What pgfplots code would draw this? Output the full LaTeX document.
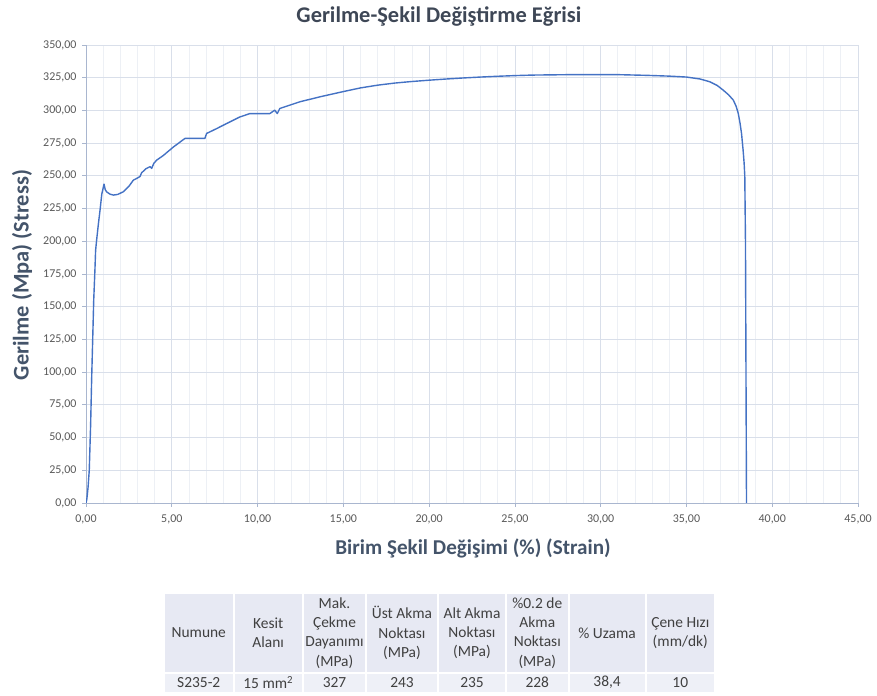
\documentclass[border=0pt]{standalone}
\usepackage{fontspec}
\setmainfont{Carlito}
\usepackage{pgfplots}
\pgfplotsset{compat=1.18}
\definecolor{curve}{HTML}{4472C4}
\definecolor{lbl}{HTML}{44546A}
\definecolor{ttl}{HTML}{3E4756}
\definecolor{tck}{HTML}{595959}
\definecolor{axl}{HTML}{A9B6CF}
\definecolor{gmaj}{HTML}{D9DFEA}
\definecolor{gmin}{HTML}{EDF0F5}
\definecolor{hdr}{HTML}{E7E9F3}
\definecolor{row}{HTML}{EEF0F7}
\definecolor{tbltxt}{HTML}{404040}
\begin{document}
\begin{tikzpicture}[x=1bp,y=1bp]
\path (0,0) rectangle (877,696);
\begin{axis}[
  at={(86bp,193bp)}, anchor=origin,
  width=772bp, height=458bp, scale only axis,
  xmin=0, xmax=45, ymin=0, ymax=350,
  xtick={0,5,...,45}, minor xtick={1,2,3,4,6,7,8,9,11,12,13,14,16,17,18,19,21,22,23,24,26,27,28,29,31,32,33,34,36,37,38,39,41,42,43,44},
  ytick={0,25,...,350},
  grid=both,
  major grid style={gmaj, line width=0.8bp},
  minor grid style={gmin, line width=0.8bp},
  axis x line*=bottom, axis y line*=left,
  axis line style={axl, line width=0.9bp, -},
  tick align=outside, major tick length=4bp, minor tick length=0pt,
  tick style={axl, line width=0.8bp},
  ticklabel style={font=\fontsize{12}{14}\selectfont, text=tck},
  xticklabel style={yshift=-4bp},
  yticklabel style={xshift=-2bp},
  /pgf/number format/assume math mode=true,
  /pgf/number format/.cd, fixed, fixed zerofill, precision=2, use comma, 1000 sep={},
]
\addplot[curve, line width=1.4bp, line join=round] coordinates {
(0,0) (0.05,3) (0.12,12) (0.19,25) (0.27,60) (0.33,95) (0.39,125) (0.45,155)
(0.52,178) (0.56,193) (0.62,201) (0.72,213) (0.82,224) (0.92,236) (1.05,243.7)
(1.12,239.5) (1.2,237.8) (1.4,236) (1.6,235.3) (1.85,235.8) (2.17,237.8) (2.5,242)
(2.76,246.7) (2.95,248) (3.15,249.5) (3.24,252.3) (3.5,255.5) (3.73,257) (3.83,255.7)
(3.95,259.5) (4.12,262) (4.5,265.5) (5.09,272) (5.5,276) (5.77,278.6) (6.93,278.6)
(7.03,282.4) (7.6,286) (8.2,290) (8.97,295) (9.56,297.6) (10.72,297.6) (11.0,300.2)
(11.15,297.6) (11.3,301.5) (12.47,306.6) (13.64,310.4) (15,314.4) (16,317.2)
(17,319.3) (18,320.9) (19,322.1) (20,323.1) (21,324.0) (22,324.8) (23,325.5)
(24,326.1) (25,326.6) (26,327) (28,327.3) (31.1,327.3) (32.67,326.8) (34,326.2)
(35.0,325.5) (35.8,324) (36.36,321.9) (36.8,319) (37.14,315.5) (37.45,312)
(37.73,307.9) (37.9,303) (38.02,297.7) (38.12,290.5) (38.21,282.4) (38.3,270)
(38.36,260) (38.4,250) (38.44,200) (38.47,100) (38.5,0)
};
\end{axis}
% titles
\node[font=\fontsize{22.5}{26}\selectfont\bfseries, text=ttl] at (439,679) {Gerilme-Şekil Değiştirme Eğrisi};
\node[font=\fontsize{21.2}{25}\selectfont\bfseries, text=lbl] at (473,148) {Birim Şekil Değişimi (\%) (Strain)};
\node[font=\fontsize{22.5}{26}\selectfont\bfseries, text=lbl, rotate=90] at (22,421) {Gerilme (Mpa) (Stress)};
% table
\def\ttop{102}\def\tmid{23}\def\tbot{4}
\foreach \l/\r in {164/233.5,233.5/303,303/366,366/438,438/506,506/568.6,568.6/645.6,645.6/715}{
  \fill[hdr] (\l+1,\tmid+1) rectangle (\r-1,\ttop);
  \fill[row] (\l+1,\tbot) rectangle (\r-1,\tmid-1);
}
\tikzset{tc/.style={font=\fontsize{15.5}{19.3}\selectfont, text=tbltxt, align=center, inner sep=0pt}}
\foreach \c/\t in {198.75/Numune, 268.25/{Kesit\\Alanı}, 334.5/{Mak.\\Çekme\\Dayanımı\\(MPa)}, 402/{Üst Akma\\Noktası\\(MPa)}, 472/{Alt Akma\\Noktası\\(MPa)}, 537.3/{\%0.2 de\\Akma\\Noktası\\(MPa)}, 607.1/{\% Uzama}, 680.3/{Çene Hızı\\(mm/dk)}}{
  \node[tc] at (\c,63) {\t};
}
\foreach \c/\t in {198.75/S235-2, 268.25/{15 mm\textsuperscript{2}}, 334.5/327, 402/243, 472/235, 537.3/228, 607.1/{38,4}, 680.3/10}{
  \node[tc] at (\c,13.5) {\t};
}
\end{tikzpicture}
\end{document}
